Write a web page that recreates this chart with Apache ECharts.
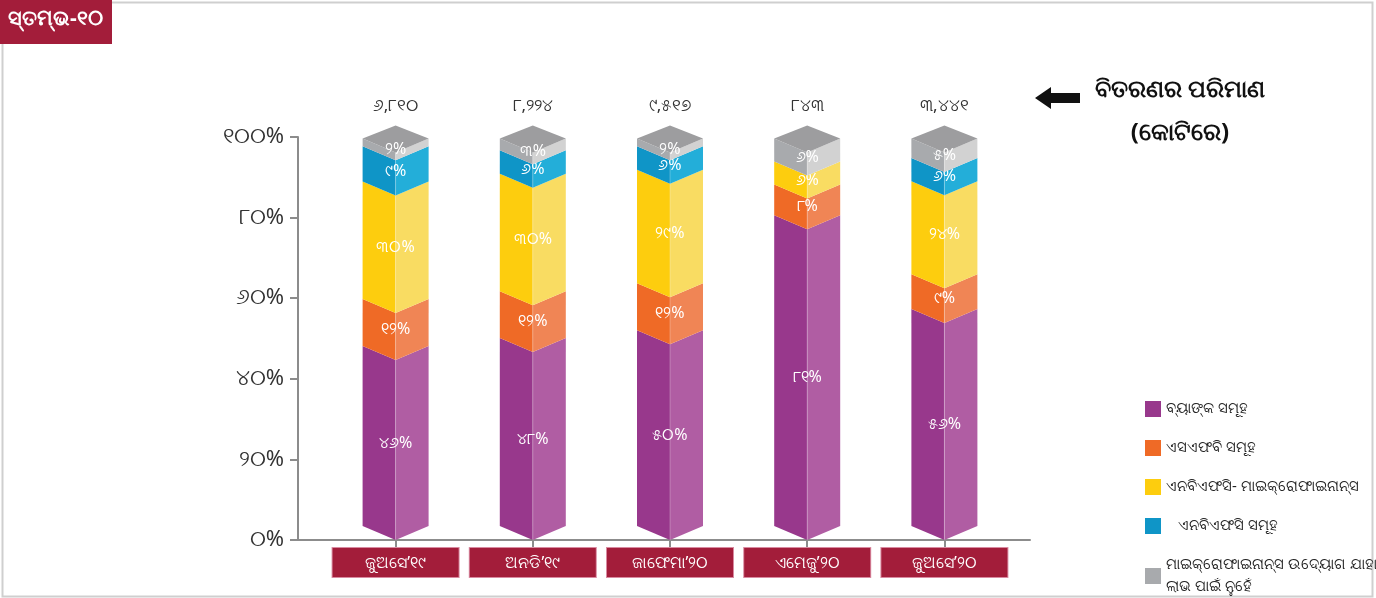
<!DOCTYPE html>
<html>
<head>
<meta charset="utf-8">
<script src="https://cdn.jsdelivr.net/npm/echarts@6/dist/echarts.min.js"></script>
<style>
  html, body { margin: 0; padding: 0; background: #fff; }
  #main { width: 1376px; height: 598px; }
</style>
</head>
<body>
<div id="main"></div>
<script>
// ତିମାହୀ ଅନୁସାରେ ବିତରଣର ଅଂଶ (%)
const categories = ['ଜୁଅସେ’୧୯', 'ଅନଡି’୧୯', 'ଜାଫେମା’୨୦', 'ଏମେଜୁ’୨୦', 'ଜୁଅସେ’୨୦']
const bank = [46, 48, 50, 81, 56]
const sfb = [12, 12, 12, 8, 9]
const nbfcMfi = [30, 30, 29, 6, 24]
const nbfc = [9, 6, 6, 0, 6]
const ngo = [2, 3, 2, 6, 5]
// ବିତରଣର ପରିମାଣ (କୋଟିରେ)
const totals = [6810, 8224, 9517, 843, 3441]

const seriesNames = [
  'ବ୍ୟାଙ୍କ ସମୂହ',
  'ଏସଏଫବି ସମୂହ',
  'ଏନବିଏଫସି- ମାଇକ୍ରୋଫାଇନାନ୍ସ',
  '   ଏନବିଏଫସି ସମୂହ',
  'ମାଇକ୍ରୋଫାଇନାନ୍ସ ଉଦ୍ୟୋଗ ଯାହା\nଲାଭ ପାଇଁ ନୁହେଁ'
]
const seriesValues = [bank, sfb, nbfcMfi, nbfc, ngo]
// [ବାମ ପାର୍ଶ୍ୱ, ଡାହାଣ ପାର୍ଶ୍ୱ]
const faceColors = [
  ['#98388c', '#b05da3'],
  ['#ef6a26', '#f08555'],
  ['#fdcd0e', '#f9dc62'],
  ['#0f95c7', '#23aed9'],
  ['#a8aaad', '#d2d2d2']
]
const red = '#a31d3a'

// ଓଡ଼ିଆ ଅଙ୍କ
function odia(n, comma) {
  let s = String(n)
  if (comma) s = s.replace(/\B(?=(\d{3})+(?!\d))/g, ',')
  return s.replace(/\d/g, d => String.fromCharCode(0x0B66 + Number(d)))
}

const HW = 33 // ଅଧା ଓସାର
const D = 14 // କୋଣ ଗଭୀରତା

function makeRender(k) {
  const isTop = k === seriesValues.length - 1
  return function(params, api) {
    const i = api.value(0)
    const s = api.value(1)
    const e = api.value(2)
    const v = api.value(3)
    if (!(e > s)) return
    const c0 = api.coord([i, s])
    const c1 = api.coord([i, e])
    const xc = c0[0]
    const children = [{
      type: 'polygon',
      shape: { points: [[xc - HW, c0[1] - D], [xc, c0[1]], [xc, c1[1]], [xc - HW, c1[1] - D]] },
      style: { fill: faceColors[k][0] }
    }, {
      type: 'polygon',
      shape: { points: [[xc, c0[1]], [xc + HW, c0[1] - D], [xc + HW, c1[1] - D], [xc, c1[1]]] },
      style: { fill: faceColors[k][1] }
    }, {
      type: 'line',
      shape: { x1: xc, y1: c0[1], x2: xc, y2: c1[1] },
      style: { stroke: 'rgba(255,255,255,0.25)', lineWidth: 1 }
    }]
    if (isTop) {
      children.push({
        type: 'polygon',
        shape: { points: [[xc - HW, c1[1] - D], [xc, c1[1] - 2 * D + 1], [xc + HW, c1[1] - D], [xc, c1[1]]] },
        style: { fill: '#9d9d9f' }
      })
    }
    children.push({
      type: 'text',
      style: {
        x: xc, y: (c0[1] + c1[1]) / 2 - D / 2,
        text: odia(v) + '%',
        fill: '#fff', font: '16px "Noto Sans", sans-serif',
        align: 'center', verticalAlign: 'middle'
      }
    })
    return { type: 'group', children: children }
  }
}

// ପ୍ରତି ସ୍ତମ୍ଭକୁ ୧୦୦% ପର୍ଯ୍ୟନ୍ତ ଦେଖାଯାଏ
const sums = categories.map((c, i) => seriesValues.reduce((a, vals) => a + vals[i], 0))

const barSeries = seriesValues.map((vals, k) => {
  const data = categories.map((c, i) => {
    let start = 0
    for (let j = 0; j < k; j++) start += seriesValues[j][i]
    const f = 100 / sums[i]
    return [i, start * f, (start + vals[i]) * f, vals[i]]
  })
  return {
    name: seriesNames[k],
    type: 'custom',
    xAxisIndex: 1,
    yAxisIndex: 1,
    itemStyle: { color: faceColors[k][0] },
    renderItem: makeRender(k),
    encode: { x: 0, y: [1, 2] },
    data: data
  }
})

const totalSeries = {
  type: 'custom',
  xAxisIndex: 1,
  yAxisIndex: 1,
  silent: true,
  renderItem: function(params, api) {
    const p = api.coord([api.value(0), api.value(1)])
    return {
      type: 'text',
      style: {
        x: p[0], y: p[1], text: odia(api.value(2), true),
        fill: '#333', font: '17px "Noto Sans", sans-serif',
        align: 'center', verticalAlign: 'middle'
      }
    }
  },
  data: totals.map((t, i) => [i, 112, t])
}

const chart = echarts.init(document.getElementById('main'))
chart.setOption({
  animation: false,
  backgroundColor: '#fff',
  textStyle: { fontFamily: '"Noto Sans", sans-serif' },
  grid: [
    { left: 298, top: 137, width: 732, height: 403 },
    { left: 327, top: 137, width: 686, height: 403 }
  ],
  xAxis: [{
    type: 'value', gridIndex: 0, min: 0, max: 1,
    axisLine: { show: true, onZero: false, lineStyle: { color: '#8c8c8c', width: 2 } },
    axisTick: { show: false }, axisLabel: { show: false }, splitLine: { show: false }
  }, {
    type: 'category', gridIndex: 1, data: categories,
    axisLine: { show: false },
    axisTick: { show: true, alignWithLabel: true, length: 8, lineStyle: { color: '#8c8c8c', width: 2 } },
    axisLabel: {
      margin: 8, color: '#fff', fontSize: 16, backgroundColor: red,
      width: 126, align: 'center', lineHeight: 20, padding: [5, 0, 4, 0],
      borderColor: '#d98aa0', borderWidth: 1, interval: 0
    }
  }],
  yAxis: [{
    type: 'value', gridIndex: 0, min: 0, max: 100, interval: 20,
    axisLine: { show: true, lineStyle: { color: '#8c8c8c', width: 2 } },
    axisTick: { show: true, length: 8, lineStyle: { color: '#8c8c8c', width: 2 } },
    axisLabel: { margin: 14, color: '#333', fontSize: 22, formatter: v => odia(v) + '%' },
    splitLine: { show: false }
  }, {
    type: 'value', gridIndex: 1, min: 0, max: 104, show: false, splitLine: { show: false }
  }],
  legend: {
    orient: 'vertical', left: 1140, top: 393, width: 236, height: 260,
    itemWidth: 16, itemHeight: 16, itemGap: 17, icon: 'rect',
    data: seriesNames,
    textStyle: { color: '#222', fontSize: 15, lineHeight: 22 },
    selectedMode: false
  },
  graphic: [
    { type: 'rect', left: 0, top: 0, shape: { width: 1370, height: 594 }, style: { fill: 'none', stroke: '#cfcfcf', lineWidth: 2 }, z: -1 },
    { type: 'rect', left: 0, top: 0, shape: { width: 112, height: 44 }, style: { fill: red } },
    { type: 'text', left: 8, top: 9, style: { text: 'ସ୍ତମ୍ଭ-୧୦', fill: '#fff', font: 'bold 21px "Noto Sans", sans-serif' } },
    { type: 'polygon', shape: { points: [[1035, 98], [1051, 87], [1051, 93], [1080, 93], [1080, 103], [1051, 103], [1051, 109]] }, style: { fill: '#111' } },
    { type: 'text', left: 1095, top: 78, style: { text: 'ବିତରଣର ପରିମାଣ', fill: '#111', font: 'bold 24px "Noto Sans", sans-serif' } },
    { type: 'text', x: 1180, y: 133, style: { text: '(କୋଟିରେ)', fill: '#111', font: 'bold 24px "Noto Sans", sans-serif', align: 'center', verticalAlign: 'middle' } }
  ],
  series: barSeries.concat([totalSeries])
})
</script>
</body>
</html>
